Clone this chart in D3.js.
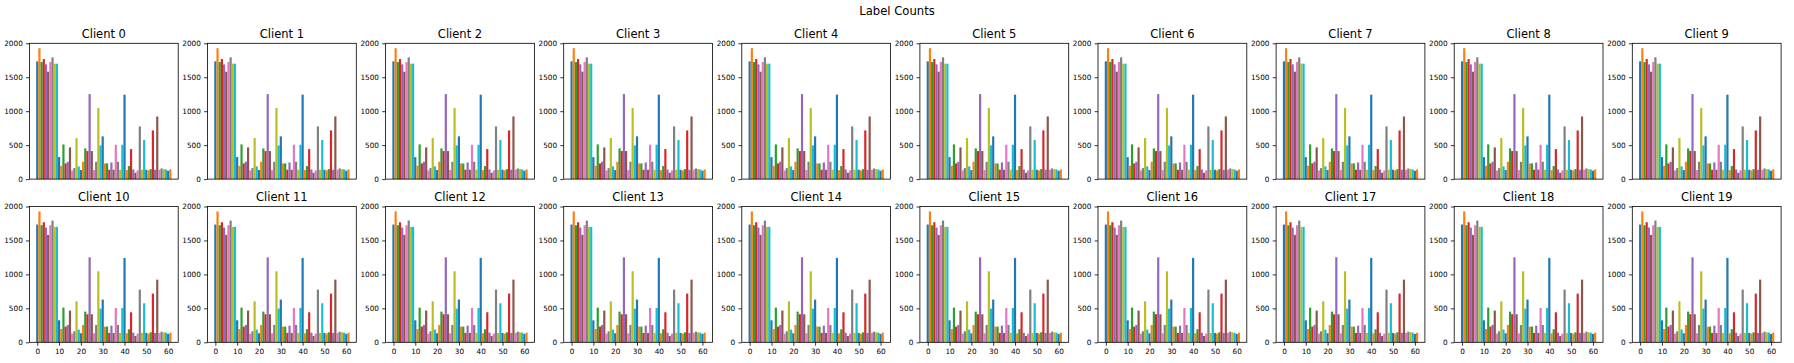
<!DOCTYPE html>
<html><head><meta charset="utf-8">
<script src="https://cdn.jsdelivr.net/npm/d3@7"></script>
<style>body{margin:0;background:#fff} svg{display:block}</style>
</head><body><svg id="chart" width="1794" height="363"></svg>
<script>
const figTitle = "Label Counts";
const clientNames = d3.range(20).map(i => "Client " + i);
const labelIds = d3.range(62);
const labelCounts = [1734,1928,1724,1768,1690,1582,1724,1793,1700,1700,
  324,196,511,231,255,467,128,162,604,187,
  133,255,452,413,1252,413,133,255,1046,496,
  629,231,231,138,245,138,506,255,138,506,
  1243,133,192,442,142,93,128,776,138,575,
  138,128,147,717,138,923,138,157,147,142,
  123,142];
const yTickValues = [0,500,1000,1500,2000];
const xTickValues = [0,10,20,30,40,50,60];
const palette = ["#1f77b4","#ff7f0e","#2ca02c","#d62728","#9467bd","#8c564b","#e377c2","#7f7f7f","#bcbd22","#17becf"];

const svg = d3.select("#chart");
const font = "DejaVu Sans, sans-serif";
const nCols = 10;
const colLeft0 = 29.4, colStep = 178.1, axW = 148.8;
const rowTops = [43.3, 206.5], axH = 135.8;

svg.append("text").attr("x", 897).attr("y", 14.5).attr("text-anchor","middle")
  .attr("font-family", font).attr("font-size", 11.6).attr("fill","#000").text(figTitle);

const x = d3.scaleLinear().domain([-3.6, 64.6]).range([0, axW]);
const y = d3.scaleLinear().domain([0, 2000]).range([axH, 0]);
const fmt = d3.format("d");

clientNames.forEach((name, k) => {
  const row = Math.floor(k / nCols), col = k % nCols;
  const g = svg.append("g").attr("transform", `translate(${colLeft0 + col*colStep},${rowTops[row]})`);
  g.selectAll("rect.bar").data(labelIds).enter().append("rect").attr("class","bar")
    .attr("x", d => x(d - 0.5)).attr("width", x(1) - x(0))
    .attr("y", d => y(labelCounts[d])).attr("height", d => y(0) - y(labelCounts[d]))
    .attr("fill", d => palette[d % 10]);
  const ya = d3.axisLeft(y).tickValues(yTickValues).tickFormat(fmt).tickSize(3.4).tickPadding(3.2);
  const yg = g.append("g").call(ya);
  yg.select(".domain").remove();
  yg.selectAll("text").attr("font-family", font).attr("font-size", 7.3).attr("fill","#000");
  yg.selectAll("line").attr("stroke","#000").attr("stroke-width",0.8);
  if (row === 1) {
    const xa = d3.axisBottom(x).tickValues(xTickValues).tickFormat(fmt).tickSize(3.4).tickPadding(3.2);
    const xg = g.append("g").attr("transform", `translate(0,${axH})`).call(xa);
    xg.select(".domain").remove();
    xg.selectAll("text").attr("font-family", font).attr("font-size", 7.3).attr("fill","#000");
    xg.selectAll("line").attr("stroke","#000").attr("stroke-width",0.8);
  }
  g.append("rect").attr("x",0).attr("y",0).attr("width",axW).attr("height",axH)
    .attr("fill","none").attr("stroke","#000").attr("stroke-width",0.8);
  g.append("text").attr("x", axW/2).attr("y", -5.8).attr("text-anchor","middle")
    .attr("font-family", font).attr("font-size", 11.5).attr("fill","#000").text(name);
});
</script></body></html>
